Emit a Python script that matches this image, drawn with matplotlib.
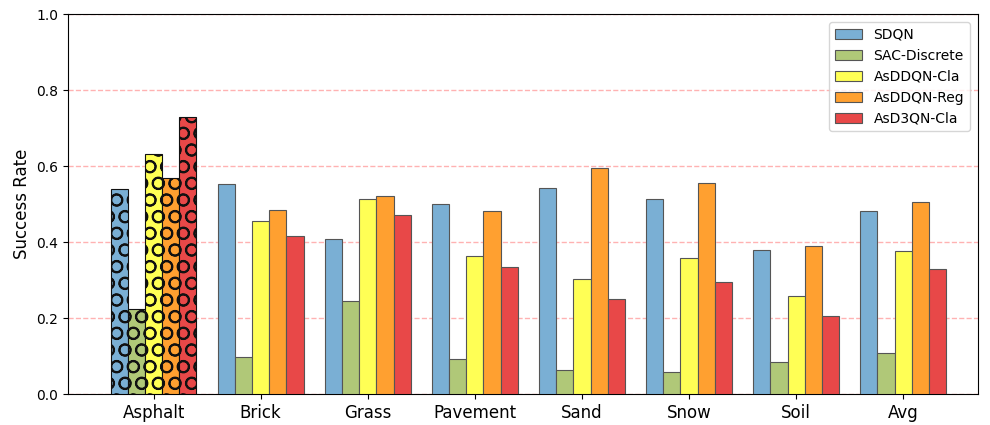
import numpy as np
import matplotlib
matplotlib.use("Agg")
import matplotlib.pyplot as plt
from matplotlib.patches import Patch

categories = ["Asphalt", "Brick", "Grass", "Pavement", "Sand", "Snow", "Soil", "Avg"]
methods = ["SDQN", "SAC-Discrete", "AsDDQN-Cla", "AsDDQN-Reg", "AsD3QN-Cla"]
sdqn = [0.539, 0.554, 0.409, 0.501, 0.543, 0.514, 0.381, 0.483]
sac_discrete = [0.224, 0.098, 0.246, 0.093, 0.064, 0.059, 0.086, 0.108]
asddqn_cla = [0.633, 0.457, 0.514, 0.363, 0.303, 0.358, 0.259, 0.376]
asddqn_reg = [0.568, 0.486, 0.521, 0.483, 0.594, 0.556, 0.391, 0.506]
asd3qn_cla = [0.730, 0.417, 0.472, 0.336, 0.251, 0.295, 0.207, 0.329]
yticks = [0.0, 0.2, 0.4, 0.6, 0.8, 1.0]

series = [sdqn, sac_discrete, asddqn_cla, asddqn_reg, asd3qn_cla]
colors = ["#7aafd4", "#b0c878", "#ffff55", "#ffa030", "#e84848"]
edge = "#555555"

plt.rcParams['hatch.linewidth'] = 1.3
fig = plt.figure(figsize=(9.9, 4.25), dpi=100)
ax = fig.add_axes([0.0687, 0.0718, 0.9193, 0.8952])

x = np.arange(len(categories))
w = 0.16
for i, (vals, c, name) in enumerate(zip(series, colors, methods)):
    pos = x + (i - 2) * w
    bars = ax.bar(pos, vals, w, color=c, edgecolor=edge, linewidth=0.8, zorder=3)
    bars[0].set_hatch('O')
    bars[0].set_edgecolor("#111111")

ax.set_xticks(x)
ax.set_xticklabels(categories, fontsize=12)
ax.set_yticks(yticks)
ax.set_yticklabels([f"{t:.1f}" for t in yticks], fontsize=10)
ax.set_ylim(0, 1.0)
ax.set_xlim(-0.8, 7.7)
ax.set_ylabel("Success Rate", fontsize=12)
ax.yaxis.grid(True, color="red", linestyle="--", alpha=0.3, linewidth=1, zorder=0)
ax.set_axisbelow(True)
handles = [Patch(facecolor=c, edgecolor=edge, linewidth=0.8) for c in colors]
ax.legend(handles, methods, loc="upper right", fontsize=10, frameon=True,
          borderaxespad=0.6)
fig.savefig("out.png", dpi=100)
